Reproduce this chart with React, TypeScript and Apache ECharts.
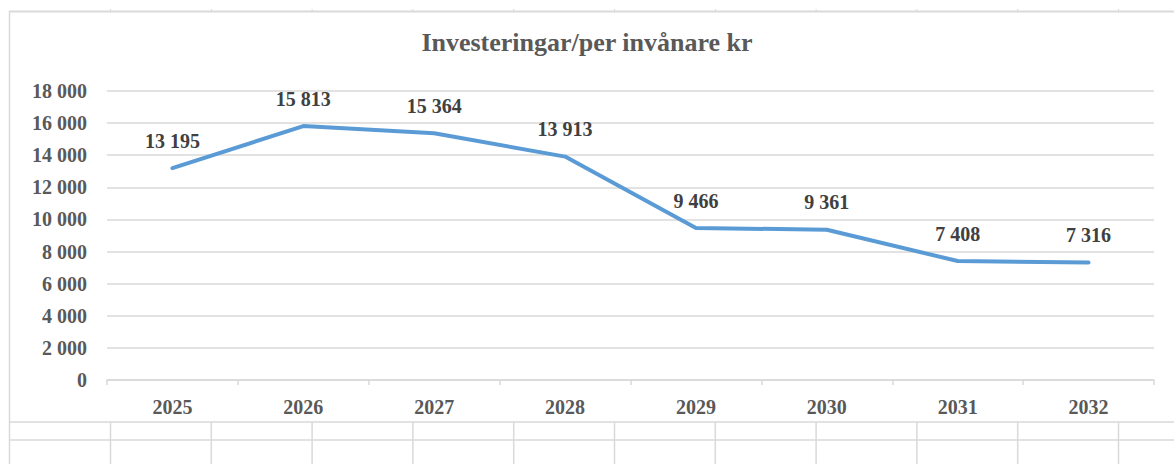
import React, { useEffect, useRef } from "react";
import * as echarts from "echarts";

const title = "Investeringar/per invånare kr";
const categories = ["2025", "2026", "2027", "2028", "2029", "2030", "2031", "2032"];
const values = [13195, 15813, 15364, 13913, 9466, 9361, 7408, 7316];
const yMin = 0;
const yMax = 18000;
const yInterval = 2000;

const fmt = (v: number) => String(Math.round(v)).replace(/\B(?=(\d{3})+(?!\d))/g, " ");

const FONT = "'Liberation Serif', 'DejaVu Serif', serif";
const W = 1174;
const H = 464;

export default function App() {
  const ref = useRef<HTMLDivElement>(null);
  useEffect(() => {
    if (!ref.current) return;
    const chart = echarts.init(ref.current, null, { renderer: "svg", width: W, height: H });
    const border = "#d9d9d9";
    const sheetLines: any[] = [
      { type: "line", shape: { x1: 9, y1: 11.5, x2: W, y2: 11.5 }, style: { stroke: border, lineWidth: 2 } },
      { type: "line", shape: { x1: 9.5, y1: 11, x2: 9.5, y2: H }, style: { stroke: border, lineWidth: 1.5 } },
      { type: "line", shape: { x1: 9, y1: 422, x2: W, y2: 422 }, style: { stroke: border, lineWidth: 1.5 } },
      { type: "line", shape: { x1: 9, y1: 440, x2: W, y2: 440 }, style: { stroke: border, lineWidth: 1.5 } },
    ];
    for (let i = 0; i < 11; i++) {
      const x = 110.5 + i * 100.8;
      sheetLines.push({ type: "line", shape: { x1: x, y1: 422, x2: x, y2: H }, style: { stroke: border, lineWidth: 1.5 } });
      sheetLines.push({ type: "line", shape: { x1: x, y1: 9, x2: x, y2: 11 }, style: { stroke: border, lineWidth: 1 } });
    }
    chart.setOption({
      animation: false,
      backgroundColor: "#ffffff",
      title: {
        text: title,
        left: "center",
        top: 24,
        textStyle: { fontFamily: FONT, fontSize: 26, fontWeight: "bold", color: "#595959" },
      },
      grid: { left: 107, right: 20, top: 91, bottom: 84 },
      xAxis: {
        type: "category",
        data: categories,
        boundaryGap: true,
        axisLine: { lineStyle: { color: border, width: 1.5 } },
        axisTick: { show: true, length: 5, lineStyle: { color: border, width: 1.5 } },
        axisLabel: { fontFamily: FONT, fontSize: 20, fontWeight: "bold", color: "#595959", margin: 17 },
      },
      yAxis: {
        type: "value",
        min: yMin,
        max: yMax,
        interval: yInterval,
        axisLine: { show: false },
        axisTick: { show: false },
        splitLine: { lineStyle: { color: border, width: 1.5 } },
        axisLabel: { fontFamily: FONT, fontSize: 20, fontWeight: "bold", color: "#595959", margin: 20, formatter: (v: number) => fmt(v) },
      },
      series: [
        {
          type: "line",
          data: values,
          symbol: "circle",
          symbolSize: 1,
          showSymbol: true,
          itemStyle: { color: "rgba(0,0,0,0)" },
          lineStyle: { color: "#5b9bd5", width: 4, cap: "round", join: "round" },
          label: {
            show: true,
            position: "top",
            distance: 17,
            fontFamily: FONT,
            fontSize: 20,
            fontWeight: "bold",
            color: "#404040",
            formatter: (p: any) => fmt(p.value),
          },
        },
      ],
      graphic: sheetLines,
    });
    return () => chart.dispose();
  }, []);
  return (
    <div style={{ position: "fixed", left: 0, top: 0, width: W, height: H, background: "#fff" }}>
      <div ref={ref} style={{ width: W, height: H }} />
    </div>
  );
}
